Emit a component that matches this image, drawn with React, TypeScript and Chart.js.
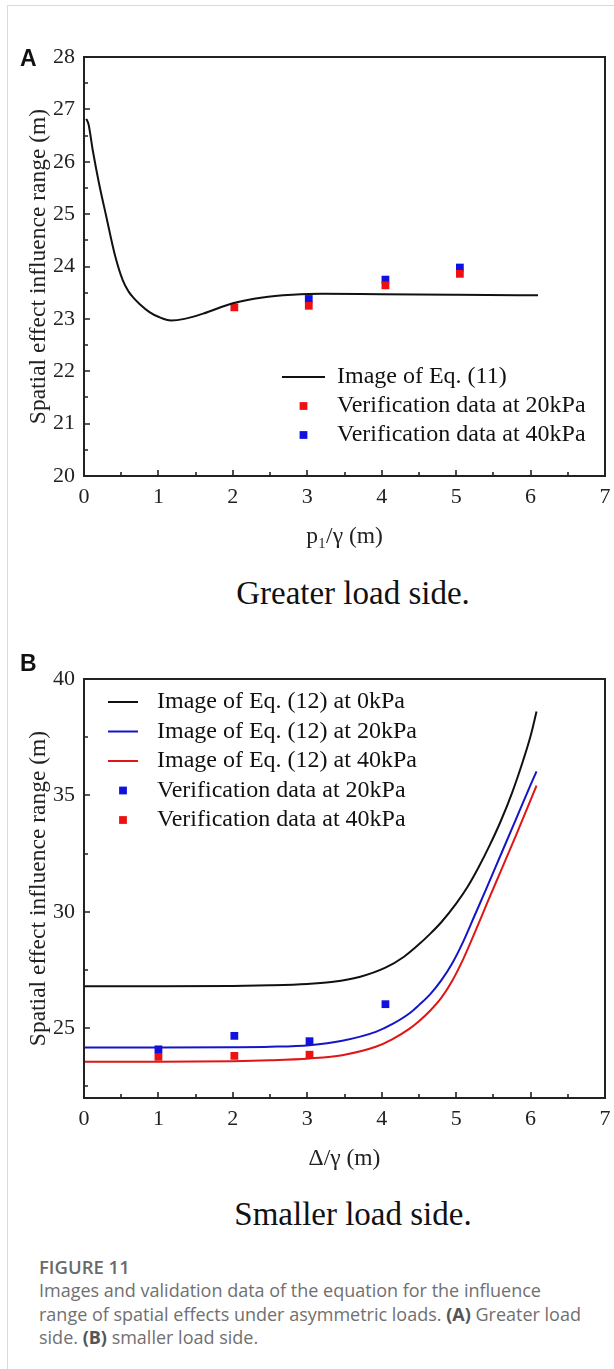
import React, { useEffect, useRef } from 'react';
import { Chart, registerables } from 'chart.js';

Chart.register(...registerables);

const SERIF = '"Liberation Serif", "Times New Roman", serif';
const SANS = '"Open Sans", "Liberation Sans", Arial, sans-serif';

// ---------- shared x axis ticks ----------
const xTickValues = [0, 1, 2, 3, 4, 5, 6, 7];
const xMinorValues = [0.5, 1.5, 2.5, 3.5, 4.5, 5.5, 6.5];

// ---------- Panel A: greater load side ----------
const aYTickValues = [20, 21, 22, 23, 24, 25, 26, 27, 28];
const aYMinorValues = [20.5, 21.5, 22.5, 23.5, 24.5, 25.5, 26.5, 27.5];
const aEqX = [0.03, 0.06, 0.12, 0.2, 0.3, 0.41, 0.52, 0.6, 0.66, 0.75, 0.88, 1.0, 1.17, 1.35, 1.6, 2.0, 2.4, 2.8, 3.2, 4.0, 5.0, 6.1];
const aEqY = [26.82, 26.72, 26.2, 25.6, 24.95, 24.25, 23.74, 23.52, 23.41, 23.28, 23.13, 23.04, 22.97, 23.0, 23.1, 23.3, 23.41, 23.46, 23.48, 23.47, 23.46, 23.45];
const aVer20X = [2.02, 3.02, 4.05, 5.05];
const aVer20Y = [23.22, 23.25, 23.64, 23.86];
const aVer40X = [3.02, 4.05, 5.05];
const aVer40Y = [23.38, 23.75, 23.98];

// ---------- Panel B: smaller load side ----------
const bYTickValues = [25, 30, 35, 40];
const bYMinorValues = [22.5, 27.5, 32.5, 37.5];
const bEq0X = [0, 1, 2, 2.5, 3.0, 3.35, 3.7, 4.05, 4.3, 4.5, 4.65, 4.8, 5.0, 5.15, 5.3, 5.45, 5.6, 5.75, 5.9, 6.0, 6.08];
const bEq0Y = [26.8, 26.8, 26.81, 26.84, 26.9, 26.99, 27.2, 27.6, 28.07, 28.6, 29.05, 29.55, 30.35, 31.05, 31.9, 32.85, 33.9, 35.1, 36.5, 37.55, 38.6];
const bEq20X = [0, 1, 2, 2.5, 3.03, 3.47, 3.92, 4.14, 4.37, 4.5, 4.65, 4.8, 4.95, 5.1, 5.25, 5.4, 5.6, 5.8, 6.0, 6.08];
const bEq20Y = [24.17, 24.17, 24.18, 24.2, 24.27, 24.46, 24.84, 25.17, 25.63, 25.99, 26.45, 27.05, 27.8, 28.75, 29.85, 30.95, 32.45, 33.95, 35.45, 36.03];
const bEq40X = [0, 1, 2, 2.5, 3.03, 3.47, 3.92, 4.14, 4.37, 4.5, 4.65, 4.8, 4.95, 5.1, 5.25, 5.42, 5.6, 5.8, 6.0, 6.08];
const bEq40Y = [23.56, 23.56, 23.58, 23.62, 23.7, 23.84, 24.2, 24.52, 24.97, 25.3, 25.75, 26.3, 27.05, 28.0, 29.1, 30.4, 31.75, 33.25, 34.8, 35.42];
const bVer20X = [1.0, 2.02, 3.03, 4.05];
const bVer20Y = [24.09, 24.67, 24.44, 26.03];
const bVer40X = [1.0, 2.02, 3.03];
const bVer40Y = [23.77, 23.81, 23.86];

const zip = (xs: number[], ys: number[]) => xs.map((x, i) => ({ x, y: ys[i] }));

const framePlugin = {
  id: 'frameTicks',
  afterDatasetsDraw(chart: any, _args: any, opts: any) {
    const { ctx, chartArea: a, scales } = chart;
    const xs = scales.x;
    const ys = scales.y;
    ctx.save();
    ctx.strokeStyle = '#222';
    ctx.lineWidth = 2;
    ctx.strokeRect(a.left, a.top, a.right - a.left, a.bottom - a.top);
    ctx.lineWidth = 1.6;
    ctx.beginPath();
    const major = 6;
    const minor = 4;
    opts.xMajor.forEach((v: number) => {
      const p = Math.round(xs.getPixelForValue(v));
      ctx.moveTo(p, a.bottom);
      ctx.lineTo(p, a.bottom - major);
    });
    opts.xMinor.forEach((v: number) => {
      const p = Math.round(xs.getPixelForValue(v));
      ctx.moveTo(p, a.bottom);
      ctx.lineTo(p, a.bottom - minor);
    });
    opts.yMajor.forEach((v: number) => {
      const p = Math.round(ys.getPixelForValue(v));
      ctx.moveTo(a.left, p);
      ctx.lineTo(a.left + major, p);
    });
    opts.yMinor.forEach((v: number) => {
      const p = Math.round(ys.getPixelForValue(v));
      ctx.moveTo(a.left, p);
      ctx.lineTo(a.left + minor, p);
    });
    ctx.stroke();
    ctx.restore();
  },
};

const legendPlugin = {
  id: 'figLegend',
  afterDraw(chart: any, _args: any, opts: any) {
    const { ctx } = chart;
    ctx.save();
    ctx.font = opts.font;
    ctx.textBaseline = 'middle';
    ctx.textAlign = 'left';
    chart.data.datasets.forEach((ds: any, i: number) => {
      const y = opts.y0 + i * opts.dy;
      if (ds.showLine) {
        ctx.strokeStyle = ds.borderColor;
        ctx.lineWidth = ds.borderWidth;
        ctx.beginPath();
        ctx.moveTo(opts.x0, y);
        ctx.lineTo(opts.x1, y);
        ctx.stroke();
      } else {
        const s = ds.pointRadius * Math.SQRT1_2;
        ctx.fillStyle = ds.backgroundColor;
        ctx.fillRect((opts.x0 + opts.x1) / 2 - s, y - s, 2 * s, 2 * s);
      }
      ctx.fillStyle = opts.color;
      ctx.fillText(ds.label, opts.textX, y);
    });
    ctx.restore();
  },
};

const lineDs = (label: string, data: any[], color: string) => ({
  label,
  data,
  showLine: true,
  borderColor: color,
  backgroundColor: color,
  borderWidth: 2,
  pointRadius: 0,
  cubicInterpolationMode: 'monotone',
});

const pointDs = (label: string, data: any[], color: string) => ({
  label,
  data,
  showLine: false,
  backgroundColor: color,
  borderColor: color,
  borderWidth: 0,
  pointStyle: 'rect',
  pointRadius: 5.5,
});

function makeConfig(datasets: any[], yMin: number, yMax: number, yMajor: number[], yMinor: number[], xTitle: string, legend: any) {
  return {
    type: 'scatter',
    data: { datasets },
    plugins: [framePlugin, legendPlugin],
    options: {
      animation: false,
      responsive: false,
      maintainAspectRatio: false,
      devicePixelRatio: 1,
      layout: { padding: { top: 57, right: 9, bottom: 0, left: 0 } },
      plugins: {
        legend: { display: false },
        tooltip: { enabled: false },
        frameTicks: { xMajor: xTickValues, xMinor: xMinorValues, yMajor, yMinor },
        figLegend: legend,
      },
      scales: {
        x: {
          type: 'linear',
          min: 0,
          max: 7,
          afterBuildTicks: (s: any) => {
            s.ticks = xTickValues.map((value) => ({ value }));
          },
          afterFit: (s: any) => {
            s.height = 84;
            s.paddingLeft = 0;
            s.paddingRight = 0;
          },
          grid: { display: false, drawTicks: false },
          border: { display: false },
          ticks: {
            autoSkip: false,
            maxRotation: 0,
            padding: 8,
            color: '#222',
            font: { family: SERIF, size: 22 },
          },
          title: {
            display: true,
            text: xTitle,
            color: '#222',
            font: { family: SERIF, size: 23.5 },
            padding: { top: 0, bottom: 9 },
          },
        },
        y: {
          type: 'linear',
          min: yMin,
          max: yMax,
          afterBuildTicks: (s: any) => {
            s.ticks = yMajor.map((value) => ({ value }));
          },
          afterFit: (s: any) => {
            s.width = 84;
            s.paddingTop = 0;
            s.paddingBottom = 0;
          },
          grid: { display: false, drawTicks: false },
          border: { display: false },
          ticks: {
            padding: 9,
            color: '#222',
            font: { family: SERIF, size: 22 },
          },
          title: {
            display: true,
            text: 'Spatial effect influence range (m)',
            color: '#222',
            font: { family: SERIF, size: 23.5 },
            padding: { top: 25, bottom: 0 },
          },
        },
      },
    },
  };
}

function Panel({ top, makeCfg }: { top: number; makeCfg: () => any }) {
  const ref = useRef<HTMLCanvasElement | null>(null);
  useEffect(() => {
    const chart = new Chart(ref.current as HTMLCanvasElement, makeCfg());
    return () => chart.destroy();
  }, []);
  return (
    <canvas
      ref={ref}
      width={614}
      height={560}
      style={{ position: 'absolute', left: 0, top, width: 614, height: 560 }}
    />
  );
}

const legendFont = `24px ${SERIF}`;

const cfgA = () =>
  makeConfig(
    [
      lineDs('Image of Eq. (11)', zip(aEqX, aEqY), '#111111'),
      pointDs('Verification data at 20kPa', zip(aVer20X, aVer20Y), '#ee1111'),
      pointDs('Verification data at 40kPa', zip(aVer40X, aVer40Y), '#1010e0'),
    ],
    20,
    28,
    aYTickValues,
    aYMinorValues,
    'p\u2081/\u03B3 (m)',
    { font: legendFont, color: '#111', x0: 282, x1: 325, textX: 337, y0: 377, dy: 29 }
  );

const cfgB = () =>
  makeConfig(
    [
      lineDs('Image of Eq. (12) at 0kPa', zip(bEq0X, bEq0Y), '#111111'),
      lineDs('Image of Eq. (12) at 20kPa', zip(bEq20X, bEq20Y), '#1515c8'),
      lineDs('Image of Eq. (12) at 40kPa', zip(bEq40X, bEq40Y), '#e01515'),
      pointDs('Verification data at 20kPa', zip(bVer20X, bVer20Y), '#1010e0'),
      pointDs('Verification data at 40kPa', zip(bVer40X, bVer40Y), '#ee1111'),
    ],
    22,
    40,
    bYTickValues,
    bYMinorValues,
    '\u0394/\u03B3 (m)',
    { font: legendFont, color: '#111', x0: 108, x1: 138, textX: 157, y0: 80, dy: 29.5 }
  );

const panelLetter: React.CSSProperties = {
  position: 'absolute',
  left: 20,
  fontFamily: '"Liberation Sans", Arial, sans-serif',
  fontWeight: 700,
  fontSize: 23,
  lineHeight: '23px',
  color: '#111',
};

const subtitle: React.CSSProperties = {
  position: 'absolute',
  left: 153,
  width: 400,
  textAlign: 'center',
  fontFamily: SERIF,
  fontSize: 33,
  lineHeight: '33px',
  color: '#111',
  whiteSpace: 'nowrap',
};

export default function App() {
  return (
    <div
      style={{
        position: 'absolute',
        left: 0,
        top: 0,
        width: 614,
        height: 1369,
        overflow: 'hidden',
        background: '#fff',
      }}
    >
      <div
        style={{
          position: 'absolute',
          left: 7,
          top: 5,
          width: 620,
          height: 1380,
          borderTop: '1px solid #d9d9d9',
          borderLeft: '1px solid #d9d9d9',
        }}
      />
      <Panel top={0} makeCfg={cfgA} />
      <Panel top={622} makeCfg={cfgB} />
      <div style={{ ...panelLetter, top: 47 }}>A</div>
      <div style={{ ...panelLetter, top: 652 }}>B</div>
      <div style={{ ...subtitle, top: 577 }}>Greater load side.</div>
      <div style={{ ...subtitle, top: 1198 }}>Smaller load side.</div>
      <div
        style={{
          position: 'absolute',
          left: 39,
          top: 1257,
          fontFamily: SANS,
          fontWeight: 600,
          fontSize: 18.5,
          lineHeight: '19px',
          color: '#6a6a6a',
        }}
      >
        FIGURE 11
      </div>
      <div
        style={{
          position: 'absolute',
          left: 39,
          top: 1279,
          width: 575,
          fontFamily: SANS,
          fontSize: 18,
          lineHeight: '23.5px',
          color: '#707070',
          whiteSpace: 'nowrap',
        }}
      >
        Images and validation data of the equation for the influence
        <br />
        range of spatial effects under asymmetric loads. <b style={{ color: '#555' }}>(A)</b> Greater load
        <br />
        side. <b style={{ color: '#555' }}>(B)</b> smaller load side.
      </div>
    </div>
  );
}
